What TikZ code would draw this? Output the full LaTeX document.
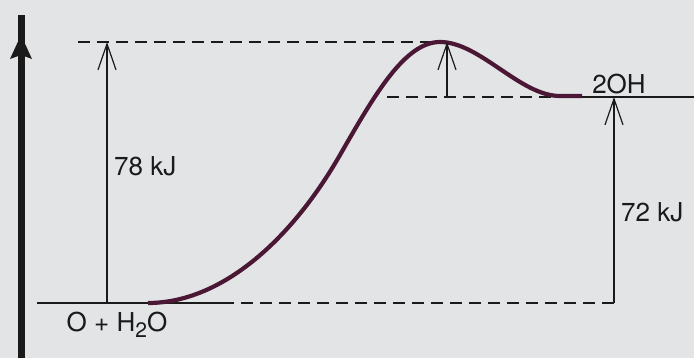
\documentclass[tikz,border=0pt]{standalone}
\usepackage{fontspec}
\setmainfont{TeX Gyre Heros}
\usetikzlibrary{arrows.meta}
\definecolor{bgpaper}{HTML}{E3E4E6}
\definecolor{curvecol}{HTML}{4A1834}
\definecolor{inkcol}{HTML}{1A1A1A}
\begin{document}
\begin{tikzpicture}[x=1pt,y=1pt,
  thinline/.style={draw=inkcol,line width=1.4pt},
  dashline/.style={thinline,dash pattern=on 12pt off 7pt},
  barb/.style={thinline,-{Straight Barb[length=26pt,width=18pt,line width=1.2pt]}},
  lbl/.style={inner sep=0pt,text=inkcol,font=\fontsize{26}{30}\selectfont},
  energy/.style={draw=curvecol,line width=4.2pt,line cap=butt}]
\fill[bgpaper] (0,0) rectangle (694,358);
\useasboundingbox (0,0) rectangle (694,358);
% levels
\coordinate (baseL) at (37,55);
\coordinate (baseS) at (222,55);
\coordinate (baseR) at (617,55);
\coordinate (topL) at (78,316);
\coordinate (peak) at (440,316);
\coordinate (midL) at (387,261);
\coordinate (midR) at (552,261);
\coordinate (prodS) at (578,261);
\coordinate (prodR) at (694,261);
\coordinate (cstart) at (148,55);
\coordinate (cinfl) at (340,203);
\coordinate (cend) at (560,262);
\coordinate (cfin) at (582,262);
% axis
\coordinate (axB) at (21,0);
\coordinate (axT) at (21,343);
\draw[inkcol,line width=7pt] (axB) -- (axT);
\fill[inkcol] (21,323) -- (32,299) -- (21,303) -- (10,299) -- cycle;
% horizontal lines
\draw[thinline] (baseL) -- (baseS);
\draw[dashline] (baseS) -- (baseR);
\draw[dashline] (topL) -- (peak);
\draw[dashline] (midL) -- (midR);
\draw[thinline] (prodS) -- (prodR);
% energy curve
\draw[energy] (cstart) .. controls (220,55) and (290,116) .. (cinfl)
  .. controls (375,264) and (405,316) .. (peak)
  .. controls (480,316) and (520,262) .. (cend) -- (cfin);
% arrows
\coordinate (a1b) at (107,55);
\coordinate (a1t) at (107,316);
\coordinate (a2b) at (447,261);
\coordinate (a2t) at (447,316);
\coordinate (a3b) at (614,55);
\coordinate (a3t) at (614,261);
\draw[barb] (a1b) -- (a1t);
\draw[barb] (a2b) -- (a2t);
\draw[barb] (a3b) -- (a3t);
% labels
\node[lbl,anchor=west] (e1) at (114,192) {78 kJ};
\node[lbl,anchor=west] (e2) at (621,146) {72 kJ};
\node[lbl] (react) at (117,33) {O + H\raisebox{-0.25em}{\fontsize{21}{21}\selectfont 2}O};
\node[lbl] (prod) at (619,274) {2OH};
\end{tikzpicture}
\end{document}
